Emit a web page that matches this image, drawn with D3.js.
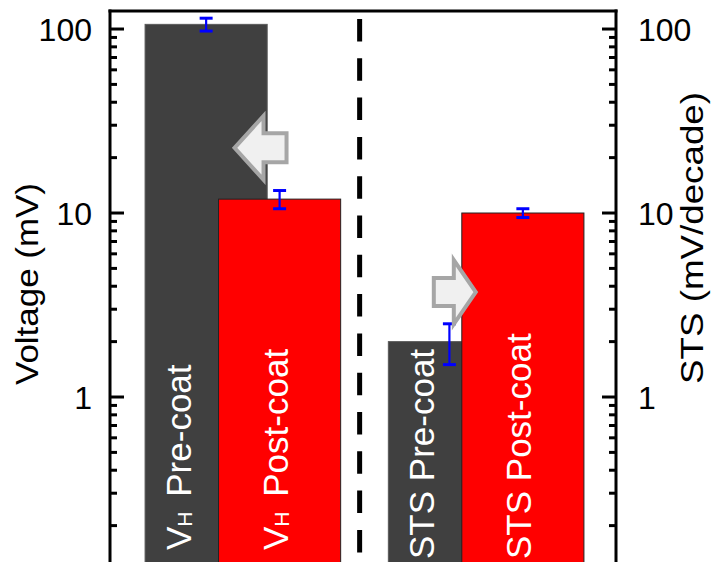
<!DOCTYPE html>
<html>
<head>
<meta charset="utf-8">
<script src="https://cdn.jsdelivr.net/npm/d3@7"></script>
<style>
  html, body { margin: 0; padding: 0; background: #fff; }
  svg { display: block; font-family: "Liberation Sans", Arial, sans-serif; }
</style>
</head>
<body>
<svg id="chart" width="712" height="562"></svg>
<script>
// Hall voltage and subthreshold swing, before and after coating
const groups = ["V_H", "STS"];
const stages = ["Pre-coat", "Post-coat"];
const values = [106, 11.9, 2.0, 10.0];      // VH pre, VH post, STS pre, STS post
const errors = [8.5, 1.35, 0.5, 0.55];
const majorTicks = [1, 10, 100];
const leftTitle = "Voltage (mV)";
const rightTitle = "STS (mV/decade)";

const svg = d3.select("#chart");
const W = 712, H = 562;
const xL = 110, xR = 616, yTop = 11;

const y = d3.scaleLog().domain([0.1, 125.3]).range([581, yTop]);
const gx = d3.scalePoint().domain(groups).range([xL + 1.5, xR + 1.5]).padding(0.54);
const step = gx.step();
const barW = 0.502 * step;
const offsets = [-0.151 * step, 0.151 * step];

const bars = [];
groups.forEach((g, gi) => stages.forEach((s, si) => {
  const i = gi * 2 + si;
  bars.push({ group: g, stage: s, value: values[i], err: errors[i],
              cx: gx(g) + offsets[si], pre: si === 0 });
}));

// bars: pre-coat first so post-coat overlaps it
svg.append("g").selectAll("rect").data(bars).join("rect")
  .attr("x", d => d.cx - barW / 2)
  .attr("y", d => y(d.value))
  .attr("width", barW)
  .attr("height", d => y(0.1) - y(d.value))
  .attr("fill", d => d.pre ? "#404040" : "#ff0000")
  .attr("stroke", d => d.pre ? "#5a5a5a" : "#222")
  .attr("stroke-width", 1);

// error bars
const eb = svg.append("g").attr("stroke", "#0000ff").attr("fill", "none");
bars.forEach(d => {
  const y1 = y(d.value + d.err), y2 = y(d.value - d.err);
  eb.append("line").attr("x1", d.cx).attr("x2", d.cx).attr("y1", y1).attr("y2", y2).attr("stroke-width", 2.2);
  [y1, y2].forEach(v => eb.append("line").attr("x1", d.cx - 6.5).attr("x2", d.cx + 6.5)
    .attr("y1", v).attr("y2", v).attr("stroke-width", 3));
});

// labels inside bars, reading bottom to top
const lab = svg.append("g").attr("fill", "#fff").attr("font-size", 35);
bars.forEach(d => {
  const tx = d.pre ? d.cx - 15 : d.cx + 8;
  const ty = d.group === "V_H" ? 550 : 559;
  const t = lab.append("text")
    .attr("transform", `translate(${tx},${ty}) rotate(-90)`);
  if (d.group === "V_H") {
    t.append("tspan").text("V");
    t.append("tspan").attr("font-size", 21).attr("dy", 1).text("H");
    t.append("tspan").attr("dy", -1).attr("dx", 5).text(" " + d.stage);
  } else {
    t.text(d.group + " " + d.stage);
  }
});

// dashed divider
const midX = (gx(groups[0]) + gx(groups[1])) / 2 - 0.02 * step;
svg.append("line").attr("x1", midX).attr("x2", midX).attr("y1", 19).attr("y2", H)
  .attr("stroke", "#000").attr("stroke-width", 5).attr("stroke-dasharray", "22.5,16.8");

// block arrows
function arrow(tipX, tipY, len, headLen, headH, shaftH, dir) {
  const s = dir;
  const pts = [
    [tipX, tipY],
    [tipX + s * headLen, tipY - headH / 2],
    [tipX + s * headLen, tipY - shaftH / 2],
    [tipX + s * len, tipY - shaftH / 2],
    [tipX + s * len, tipY + shaftH / 2],
    [tipX + s * headLen, tipY + shaftH / 2],
    [tipX + s * headLen, tipY + headH / 2]
  ];
  svg.append("path").attr("d", d3.line()(pts) + "Z")
    .attr("fill", "#f0f0f0").attr("stroke", "#a6a6a6").attr("stroke-width", 4)
    .attr("stroke-linejoin", "miter");
}
arrow(bars[1].cx - barW / 2 + 16, y(22.6), 52, 29, 64, 29, 1);
arrow(bars[3].cx - barW / 2 + 14, y(3.72), 42, 22, 64, 28, -1);

// axes
const minor = [];
for (let dec = 0.1; dec < 200; dec *= 10)
  for (let k = 1; k <= 9; k++) { const v = +(k * dec).toPrecision(3); if (v >= 0.1 && v <= 125) minor.push(v); }

const ax = svg.append("g").attr("stroke", "#000").attr("stroke-width", 3);
ax.append("line").attr("x1", xL).attr("x2", xL).attr("y1", yTop - 1.5).attr("y2", H);
ax.append("line").attr("x1", xR).attr("x2", xR).attr("y1", yTop - 1.5).attr("y2", H);
ax.append("line").attr("x1", xL - 1.5).attr("x2", xR + 1.5).attr("y1", yTop).attr("y2", yTop);
minor.forEach(v => {
  const major = majorTicks.includes(v) || v === 0.1;
  const len = major ? 14 : 7;
  ax.append("line").attr("x1", xL).attr("x2", xL + len).attr("y1", y(v)).attr("y2", y(v));
  ax.append("line").attr("x1", xR).attr("x2", xR - len).attr("y1", y(v)).attr("y2", y(v));
});

const tl = svg.append("g").attr("font-size", 32).attr("fill", "#000");
majorTicks.forEach(v => {
  tl.append("text").attr("x", xL - 18).attr("y", y(v)).attr("dy", "0.36em")
    .attr("text-anchor", "end").text(d3.format("d")(v));
  tl.append("text").attr("x", xR + 22).attr("y", y(v)).attr("dy", "0.36em")
    .attr("text-anchor", "start").text(d3.format("d")(v));
});

svg.append("text").attr("transform", `translate(38,284) rotate(-90)`)
  .attr("text-anchor", "middle").attr("font-size", 32)
  .attr("textLength", 202).attr("lengthAdjust", "spacingAndGlyphs").text(leftTitle);
svg.append("text").attr("transform", `translate(703,238) rotate(-90)`)
  .attr("text-anchor", "middle").attr("font-size", 32)
  .attr("textLength", 292).attr("lengthAdjust", "spacingAndGlyphs").text(rightTitle);
</script>
</body>
</html>
